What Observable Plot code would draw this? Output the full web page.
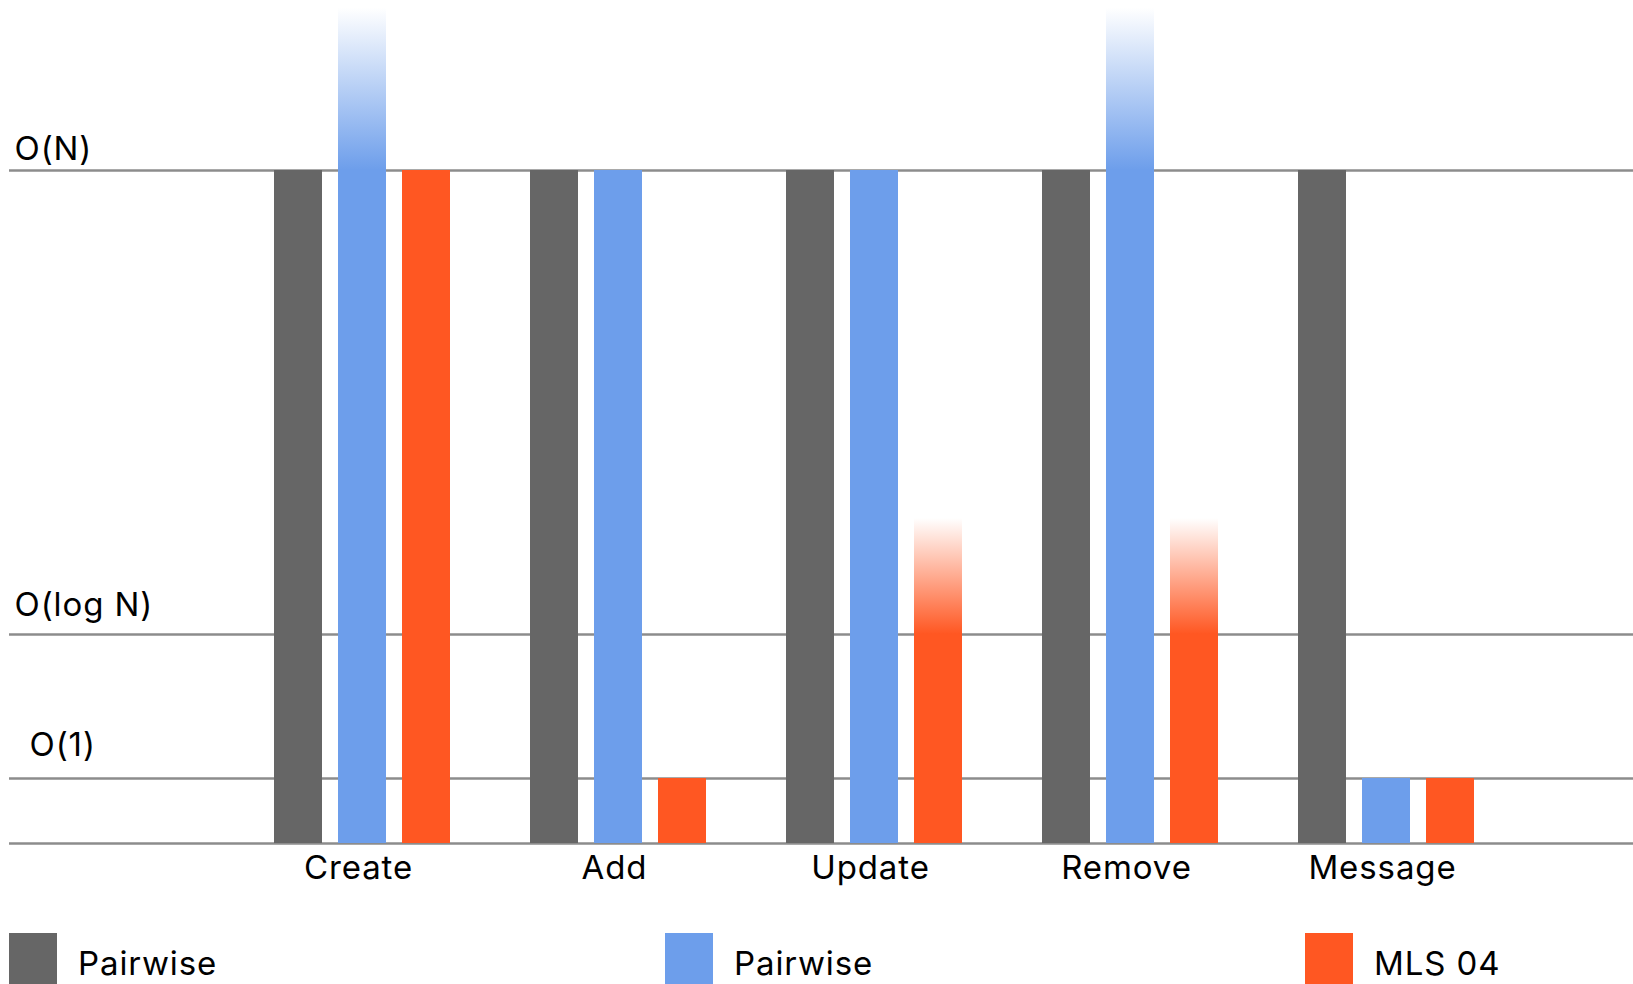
<!DOCTYPE html>
<html>
<head>
<meta charset="utf-8">
<script src="https://cdn.jsdelivr.net/npm/d3@7"></script>
<script src="https://cdn.jsdelivr.net/npm/@observablehq/plot@0.6"></script>
<style>
  html, body { margin: 0; padding: 0; background: #fff; overflow: hidden; }
  #chart svg, #legend svg { display: block; }
  #chart svg text, #legend svg text { letter-spacing: 0.9px; }
</style>
</head>
<body>
<div id="chart"></div>
<div id="legend"></div>
<script>
// ---- Data ----
const categories = ["Create", "Add", "Update", "Remove", "Message"];
const seriesNames = ["Pairwise", "Pairwise", "MLS 04"];
const seriesColors = ["#666666", "#6d9eeb", "#ff5722"];
const levelValues = [1, 2, 3];
const levelLabels = ["O(1)", "O(log N)", "O(N)"];
// complexity level reached by each series (1 = O(1), 2 = O(log N), 3 = O(N))
const pairwiseGrayValues = [3, 3, 3, 3, 3];
const pairwiseBlueValues = [3, 3, 3, 3, 1];
const mls04Values = [3, 1, 2, 2, 1];
// faded (uncertain) upper extent above the solid level, null = none
const pairwiseBlueFade = [3.35, null, null, 3.35, null];
const mls04Fade = [null, null, 2.25, 2.25, null];

const seriesValues = [pairwiseGrayValues, pairwiseBlueValues, mls04Values];
const seriesFades = [null, pairwiseBlueFade, mls04Fade];
const gradIds = [null, "fadeBlue", "fadeOrange"];

const FONT = "Inter, Lato, sans-serif";
const FS = 33;

// table rows built from the arrays
const rows = (i) => categories.map((c, k) => ({category: c, value: seriesValues[i][k]}));
const fadeRows = (i) => seriesFades[i] ? categories.map((c, k) => ({category: c, lo: seriesValues[i][k], hi: seriesFades[i][k]})).filter(d => d.hi != null) : [];

const step = 64, bw = 48, first = 40, band = 256;
const marks = [
  Plot.ruleY([0, ...levelValues], {stroke: "#8c8c8c", strokeWidth: 2.5})
];
seriesValues.forEach((_, i) => {
  const insetLeft = first + i * step;
  const insetRight = band - insetLeft - bw;
  marks.push(Plot.barY(rows(i), {x: "category", y1: 0, y2: "value", fill: seriesColors[i], insetLeft, insetRight}));
  const f = fadeRows(i);
  if (f.length) marks.push(Plot.barY(f, {x: "category", y1: "lo", y2: "hi", fill: `url(#${gradIds[i]})`, insetLeft, insetRight}));
});
// level labels (baseline offsets above each line)
const baseOff = 0.32 * FS;
const levelDy = [-23 - baseOff, -19 - baseOff, -11 - baseOff];
const levelDx = [20, 5, 5];
levelValues.forEach((v, i) => {
  marks.push(Plot.text([levelLabels[i]], {y: () => v, text: d => d, frameAnchor: "left", textAnchor: "start",
    lineAnchor: "middle", dx: levelDx[i], dy: levelDy[i], fontSize: FS, fill: "#000"}));
});
// category labels
marks.push(Plot.text(categories, {x: d => d, text: d => d, frameAnchor: "bottom", lineAnchor: "middle",
  dx: -4, dy: 35 - baseOff, fontSize: FS, fill: "#000"}));

const chart = Plot.plot({
  width: 1633,
  height: 925,
  marginLeft: 9,
  marginRight: 0,
  marginTop: 0,
  marginBottom: 82,
  style: {fontFamily: FONT, background: "#fff", overflow: "visible"},
  x: {type: "band", domain: categories, range: [234, 1514], padding: 0, axis: null},
  y: {type: "linear", domain: [0, 1, 2, 3], range: [843, 778, 634, 170], axis: null},
  marks
});

// gradient definitions for faded bars
const defs = d3.select(chart).insert("defs", ":first-child");
[[gradIds[1], seriesColors[1]], [gradIds[2], seriesColors[2]]].forEach(([id, c]) => {
  const g = defs.append("linearGradient").attr("id", id).attr("x1", 0).attr("y1", 1).attr("x2", 0).attr("y2", 0);
  g.append("stop").attr("offset", 0).attr("stop-color", c).attr("stop-opacity", 1);
  g.append("stop").attr("offset", 1).attr("stop-color", c).attr("stop-opacity", 0);
});
document.getElementById("chart").appendChild(chart);

// ---- Legend ----
const legendX = [9, 665, 1305];
const lg = d3.select("#legend").append("svg").attr("width", 1633).attr("height", 59)
  .style("font-family", FONT);
seriesNames.forEach((name, i) => {
  lg.append("rect").attr("x", legendX[i]).attr("y", 8).attr("width", 48).attr("height", 60).attr("fill", seriesColors[i]);
  lg.append("text").attr("x", legendX[i] + 69).attr("y", 50).attr("font-size", FS).attr("fill", "#000").text(name);
});
</script>
</body>
</html>
